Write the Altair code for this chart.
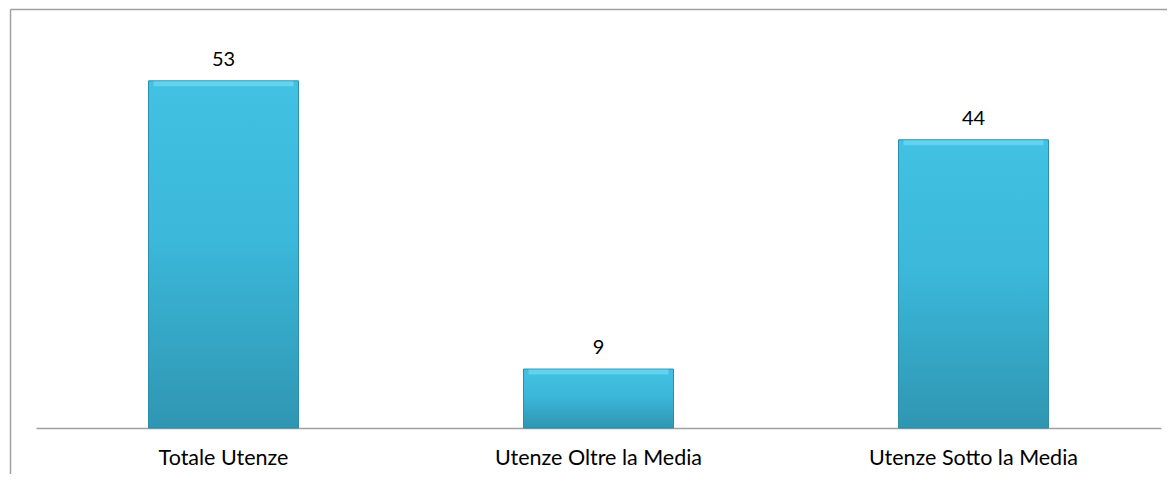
import altair as alt
import pandas as pd

categories = ["Totale Utenze", "Utenze Oltre la Media", "Utenze Sotto la Media"]
values = [53, 9, 44]

df = pd.DataFrame({"cat": categories, "val": values})
one = pd.DataFrame({"a": [0]})

W, H = 1125, 393
PL, PT, PR, PB = 28, 27, 6, 46

x_enc = alt.X("cat:N", sort=categories, title=None,
              scale=alt.Scale(paddingInner=0.6, paddingOuter=0.3),
              axis=alt.Axis(labelAngle=0, ticks=False, domainColor="#a0a0a0",
                            domainWidth=1.5, labelFont="Lato", labelFontSize=21.5,
                            labelColor="#000000", labelBaseline="alphabetic",
                            labelPadding=36, labelLimit=0, grid=False))
y_enc = alt.Y("val:Q", scale=alt.Scale(domain=[0, 60]), axis=None)

grad = alt.Gradient(
    gradient="linear",
    stops=[alt.GradientStop(color="#42c1e2", offset=0),
           alt.GradientStop(color="#3bb8da", offset=0.45),
           alt.GradientStop(color="#2f96b2", offset=1)],
    x1=0, x2=0, y1=0, y2=1)

base = alt.Chart(df)
bars = base.mark_bar(color=grad, stroke="#2c8ea8", strokeWidth=1).encode(x=x_enc, y=y_enc)
bevel = base.mark_tick(color="#6fdcf3", thickness=5, size=140, yOffset=3).encode(x=x_enc, y=y_enc)
labels = base.mark_text(font="Lato", fontSize=20, color="#000000",
                        baseline="alphabetic", dy=-15).encode(
    x=x_enc, y=y_enc, text="val:Q")

left_line = alt.Chart(one).mark_rule(color="#a0a0a0", strokeWidth=1.5).encode(
    x=alt.value(-25.5), y=alt.value(-25.5), y2=alt.value(H + PB))
top_line = alt.Chart(one).mark_rule(color="#a0a0a0", strokeWidth=1.5).encode(
    x=alt.value(-25.5), x2=alt.value(W + PR), y=alt.value(-25.5))

chart = alt.layer(bars, bevel, labels, left_line, top_line).properties(
    width=W, height=H,
    autosize=alt.AutoSizeParams(type="none"),
    padding={"left": PL, "top": PT, "right": PR, "bottom": PB},
    background="#ffffff",
).configure_view(stroke=None)

chart.save("out.html", embed_options={"renderer": "svg", "actions": False})
